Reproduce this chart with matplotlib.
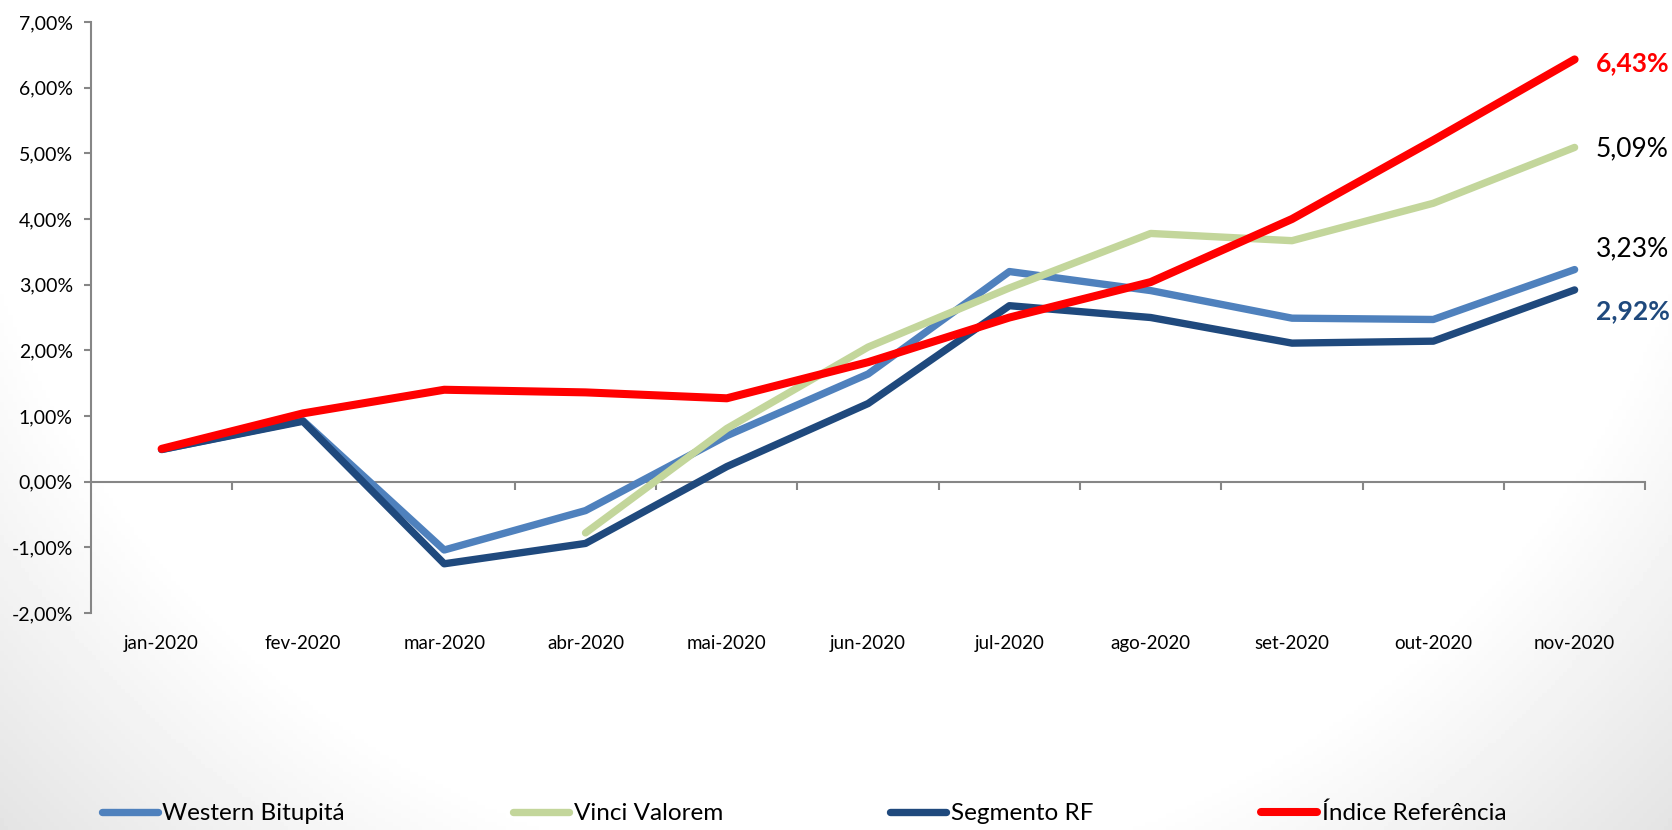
import numpy as np
import matplotlib.pyplot as plt
from matplotlib.ticker import FuncFormatter, FixedLocator

plt.rcParams['font.family'] = ['Lato', 'DejaVu Sans']

months = ['jan-2020', 'fev-2020', 'mar-2020', 'abr-2020', 'mai-2020', 'jun-2020',
          'jul-2020', 'ago-2020', 'set-2020', 'out-2020', 'nov-2020']

# rentabilidade acumulada (%)
western = [0.49, 0.93, -1.04, -0.44, 0.70, 1.64, 3.20, 2.91, 2.49, 2.47, 3.23]
vinci = [np.nan, np.nan, np.nan, -0.78, 0.81, 2.05, 2.95, 3.78, 3.67, 4.24, 5.09]
segmento = [0.49, 0.92, -1.25, -0.94, 0.23, 1.19, 2.68, 2.50, 2.11, 2.14, 2.92]
indice = [0.50, 1.04, 1.40, 1.36, 1.27, 1.82, 2.50, 3.04, 4.00, 5.20, 6.43]

names = ['Western Bitupitá', 'Vinci Valorem', 'Segmento RF', 'Índice Referência']
colors = ['#4F81BD', '#C3D69B', '#1F497D', '#FF0000']


def main():
    fig = plt.figure(figsize=(16.72, 8.30), dpi=100)

    # faint vignette, darker toward the bottom corners
    bg = fig.add_axes([0, 0, 1, 1], zorder=-10)
    yy, xx = np.mgrid[0:1:200j, 0:1:400j]
    r = np.sqrt(((xx - 0.5) / 0.53) ** 2 + ((yy - 1.05) / 1.1) ** 2)
    shade = 1 - 0.11 * np.clip((r - 1.0) / 0.35, 0, 1)
    bg.imshow(shade, cmap='gray', vmin=0, vmax=1, aspect='auto',
              extent=[0, 1, 0, 1], origin='lower')
    bg.axis('off')

    ax = fig.add_axes([0.0544, 0.2614, 0.9296, 0.7121])
    ax.patch.set_alpha(0)
    x = np.arange(len(months))

    series = [western, vinci, segmento, indice]
    lws = [5.3, 5.3, 5.3, 5.8]
    lines = []
    for vals, name, c, lw in zip(series, names, colors, lws):
        ln, = ax.plot(x, vals, color=c, lw=lw, label=name,
                      solid_capstyle='round', solid_joinstyle='round')
        lines.append(ln)

    ax.set_xlim(-0.5, len(months) - 0.5)
    ax.set_ylim(-2, 7)
    ax.set_yticks(np.arange(-2, 8, 1))
    ax.yaxis.set_major_formatter(FuncFormatter(lambda v, p: f'{v:.2f}%'.replace('.', ',')))

    for s in ['top', 'right', 'bottom']:
        ax.spines[s].set_visible(False)
    ax.spines['left'].set_color('#868686')
    ax.spines['left'].set_linewidth(1.5)
    ax.tick_params(axis='y', direction='out', length=5, width=1.5, color='#868686',
                   labelsize=14, pad=8)
    ax.set_xticks(x)
    ax.set_xticklabels(months)
    ax.tick_params(axis='x', length=0, labelsize=13.5, pad=16)

    # zero line with category separators
    sec = ax.secondary_xaxis(0, transform=ax.transData)
    sec.spines['bottom'].set_color('#868686')
    sec.spines['bottom'].set_linewidth(1.5)
    sec.xaxis.set_major_locator(FixedLocator(np.arange(0.5, len(months), 1)))
    sec.tick_params(axis='x', direction='out', length=6, width=1.5, color='#868686',
                    labelbottom=False)

    # end labels
    xl = len(months) - 1 + 0.15
    ax.text(xl, 6.38, '6,43%', color='#FF0000', fontsize=19, fontweight='bold',
            ha='left', va='center')
    ax.text(xl, 5.07, '5,09%', color='black', fontsize=19, ha='left', va='center')
    ax.text(xl, 3.54, '3,23%', color='black', fontsize=19, ha='left', va='center')
    ax.text(xl, 2.60, '2,92%', color='#1F497D', fontsize=19, fontweight='bold',
            ha='left', va='center')

    fig.legend(handles=lines, loc='center', bbox_to_anchor=(0.481, 0.02), ncol=4,
               frameon=False, fontsize=17.5, handlelength=2.3, handletextpad=0.2,
               columnspacing=6.9)

    fig.savefig('out.png', dpi=100)


if __name__ == '__main__':
    main()
